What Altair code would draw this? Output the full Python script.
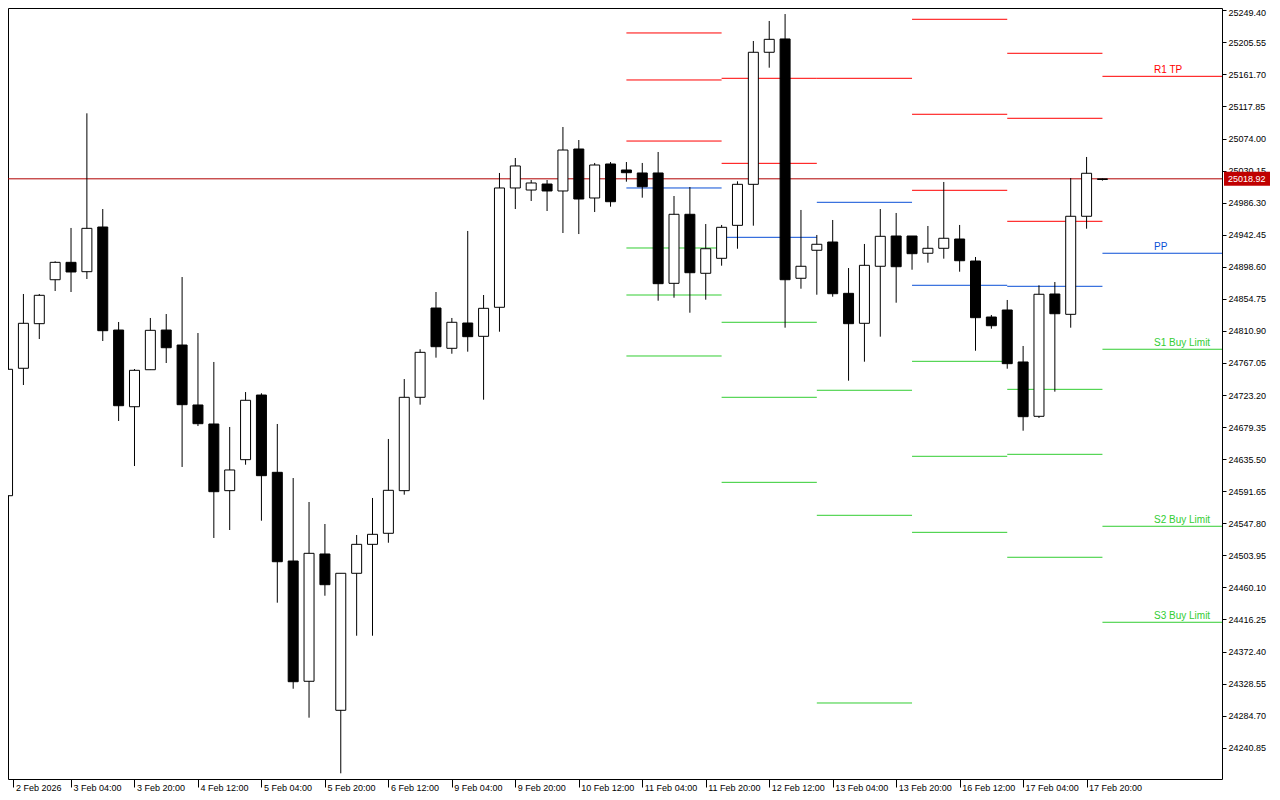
import altair as alt
import pandas as pd

# ---- candle data (4-hour bars, index 0 = 2 Feb 2026 12:00) ----
opens = [24585.5, 24759.8, 24820.8, 24880.9, 24904.7, 24891.9, 24953.0, 24812.1, 24707.2, 24757.8,
         24812.1, 24791.6, 24709.6, 24683.6, 24592.4, 24634.8, 24723.2, 24617.5, 24496.2, 24331.7,
         24505.8, 24292.0, 24479.4, 24519.0, 24534.1, 24592.4, 24720.1, 24842.2, 24787.1, 24821.7,
         24803.5, 24843.2, 25006.4, 25003.6, 25011.8, 25002.3, 25059.7, 24992.7, 25039.2, 25031.0,
         25026.9, 25026.9, 24876.0, 24970.4, 24889.7, 24910.2, 24955.3, 25011.4, 25192.0, 25210.2,
         24882.9, 24921.2, 24932.5, 24862.3, 24821.3, 24899.3, 24940.7, 24940.7, 24917.1, 24923.9,
         24936.6, 24906.5, 24829.9, 24839.5, 24768.4, 24694.1, 24861.4, 24833.6, 24967.7, 25018.0]
highs = [24758.4, 24861.4, 24861.4, 24906.1, 24951.7, 25108.5, 24977.6, 24823.1, 24758.8, 24828.6,
         24834.0, 24884.6, 24808.0, 24768.4, 24679.5, 24727.3, 24725.6, 24683.6, 24609.7, 24576.9,
         24546.8, 24479.4, 24531.8, 24582.4, 24663.1, 24745.1, 24785.8, 24864.1, 24828.6, 24947.6,
         24860.0, 25026.9, 25047.4, 25017.3, 25017.3, 25089.8, 25072.0, 25040.6, 25041.9, 25041.9,
         25040.6, 25055.6, 24995.4, 25007.7, 24957.1, 24955.8, 25015.5, 25207.4, 25234.8, 25244.3,
         24976.3, 24942.1, 24962.6, 24896.9, 24929.8, 24977.6, 24972.2, 24940.7, 24954.4, 25014.6,
         24955.8, 24912.0, 24832.7, 24853.2, 24790.3, 24873.3, 24877.8, 25020.0, 25048.8, 25019.5]
lows = [24585.5, 24736.9, 24799.8, 24865.5, 24864.1, 24881.9, 24797.1, 24687.7, 24626.1, 24757.4,
        24767.0, 24624.8, 24680.8, 24527.7, 24538.6, 24627.9, 24551.3, 24439.2, 24321.5, 24281.9,
        24448.7, 24205.8, 24394.0, 24394.0, 24521.2, 24586.9, 24710.0, 24774.3, 24779.7, 24782.5,
        24716.8, 24809.8, 24977.6, 24988.6, 24974.9, 24944.8, 24943.4, 24973.5, 24980.8, 25015.0,
        24993.1, 24852.2, 24856.3, 24835.8, 24853.6, 24900.1, 24923.3, 24954.8, 25170.9, 24815.3,
        24868.6, 24860.4, 24857.7, 24742.8, 24768.8, 24803.0, 24849.5, 24894.6, 24904.2, 24909.7,
        24891.9, 24783.8, 24813.9, 24759.2, 24674.4, 24691.8, 24727.8, 24815.3, 24950.7, 25016.5]
closes = [24758.4, 24821.3, 24859.6, 24904.7, 24891.5, 24951.2, 24811.2, 24708.6, 24757.0, 24811.7,
          24787.9, 24710.0, 24684.0, 24591.0, 24620.7, 24716.0, 24612.9, 24495.2, 24331.1, 24506.7,
          24463.8, 24479.4, 24519.0, 24532.7, 24592.9, 24720.1, 24781.6, 24789.3, 24822.7, 24803.0,
          24841.8, 25006.4, 25036.5, 25013.2, 25002.3, 25058.3, 24991.3, 25037.8, 24987.6, 25027.3,
          25008.1, 24875.5, 24970.4, 24890.5, 24923.3, 24952.6, 25011.4, 25192.0, 25209.7, 24880.9,
          24899.3, 24929.4, 24861.8, 24820.8, 24900.6, 24940.3, 24898.7, 24916.5, 24923.9, 24937.6,
          24906.9, 24829.0, 24818.0, 24766.1, 24693.6, 24861.0, 24834.4, 24967.7, 25026.5, 25018.92]
bar_index = list(range(len(opens)))

current_price = 25018.92

# ---- daily pivot segments (start / end bar index) ----
seg_start = [39, 45, 51, 57, 63, 69]
seg_end = [45, 51, 57, 63, 69, 80]
r3 = [25218.4, 25257.6, None, 25237.1, 25190.6, None]
r2 = [25154.1, 25156.4, None, 25107.2, 25101.7, None]
r1 = [25070.6, 25040.1, 25156.4, 25003.2, 24960.8, 25159.1]
pp = [25006.4, 24938.9, 24986.8, 24873.3, 24871.9, 24917.1]
s1 = [24924.3, 24822.7, 24729.7, 24769.3, 24731.0, 24785.8]
s2 = [24860.0, 24720.1, 24558.7, 24639.4, 24642.1, 24543.7]
s3 = [24776.6, 24603.8, 24302.0, 24535.4, 24501.3, 24412.4]

level_texts = ["R1 TP", "PP", "S1 Buy Limit", "S2 Buy Limit", "S3 Buy Limit"]
level_kinds = ["R", "P", "S", "S", "S"]

# ---- axis ticks ----
x_tick_pos = [0.375, 4, 8, 12, 16, 20, 24, 28, 32, 36, 40, 44, 48, 52, 56, 60, 64, 68]
x_labels = ["2 Feb 2026", "3 Feb 04:00", "3 Feb 20:00", "4 Feb 12:00", "5 Feb 04:00", "5 Feb 20:00",
            "6 Feb 12:00", "9 Feb 04:00", "9 Feb 20:00", "10 Feb 12:00", "11 Feb 04:00", "11 Feb 20:00",
            "12 Feb 12:00", "13 Feb 04:00", "13 Feb 20:00", "16 Feb 12:00", "17 Feb 04:00", "17 Feb 20:00"]
y_ticks = [25249.40, 25205.55, 25161.70, 25117.85, 25074.00, 25030.15, 24986.30, 24942.45,
           24898.60, 24854.75, 24810.90, 24767.05, 24723.20, 24679.35, 24635.50, 24591.65,
           24547.80, 24503.95, 24460.10, 24416.25, 24372.40, 24328.55, 24284.70, 24240.85]

# ---- build tables ----
candles = pd.DataFrame({"i": bar_index, "open": opens, "high": highs, "low": lows, "close": closes})

rows = []
for k in range(len(seg_start)):
    for kind, arr in (("R", r3), ("R", r2), ("R", r1), ("P", pp), ("S", s1), ("S", s2), ("S", s3)):
        if arr[k] is not None:
            rows.append({"start": seg_start[k], "end": seg_end[k], "level": arr[k], "kind": kind})
pivots = pd.DataFrame(rows)

last = len(seg_start) - 1
labels_df = pd.DataFrame({
    "text": level_texts,
    "level": [r1[last], pp[last], s1[last], s2[last], s3[last]],
    "kind": level_kinds,
})
price_df = pd.DataFrame({"price": [current_price], "txt": ["%.2f" % current_price]})

FONT = "Liberation Sans"
xscale = alt.Scale(domain=[0.34375, 76.21875], nice=False, zero=False)
yscale = alt.Scale(domain=[24198.04, 25252.55], nice=False, zero=False)
label_expr = "[" + ",".join("'" + s + "'" for s in x_labels) + "][round(datum.value/4)]"

xaxis = alt.Axis(values=x_tick_pos, labelExpr=label_expr, title=None, grid=False, domain=False,
                 tickColor="black", tickSize=8, labelAlign="left", labelBaseline="top",
                 labelPadding=-4, labelOffset=2, labelFont=FONT, labelFontSize=9,
                 labelColor="black", labelOverlap=False, labelFlush=False)
yaxis = alt.Axis(orient="right", values=y_ticks, format=".2f", title=None, grid=False,
                 domain=False, tickColor="black", tickSize=4, labelPadding=2, labelFont=FONT,
                 labelFontSize=9, labelColor="black", labelOverlap=False, labelFlush=False,
                 labelOffset={"condition": {"test": "datum.value > 25249", "value": 2}, "value": 0})

color_scale = alt.Scale(domain=["R", "P", "S"], range=["#FF0000", "#0A4FD6", "#32CD32"])

base = alt.Chart(candles)

pivot_lines = alt.Chart(pivots).mark_rule(strokeWidth=1, clip=True).encode(
    x=alt.X("start:Q", scale=xscale, axis=xaxis),
    x2="end:Q",
    y=alt.Y("level:Q", scale=yscale, axis=yaxis),
    color=alt.Color("kind:N", scale=color_scale, legend=None),
)

price_line = alt.Chart(price_df).mark_rule(color="#B00000", strokeWidth=1).encode(
    y=alt.Y("price:Q", scale=yscale, axis=yaxis),
)

wicks = base.mark_rule(color="black", strokeWidth=1, clip=True).encode(
    x=alt.X("i:Q", scale=xscale, axis=xaxis),
    y=alt.Y("low:Q", scale=yscale, axis=yaxis),
    y2="high:Q",
)

bodies = base.mark_bar(size=10, stroke="black", strokeWidth=1, clip=True).encode(
    x=alt.X("i:Q", scale=xscale, axis=xaxis),
    y=alt.Y("open:Q", scale=yscale, axis=yaxis),
    y2="close:Q",
    fill=alt.condition("datum.close < datum.open", alt.value("black"), alt.value("white")),
)

level_labels = alt.Chart(labels_df).mark_text(align="left", baseline="alphabetic", dy=-3,
                                              font=FONT, fontSize=10).encode(
    x=alt.value(1146),
    y=alt.Y("level:Q", scale=yscale, axis=yaxis),
    text="text:N",
    color=alt.Color("kind:N", scale=color_scale, legend=None),
)

price_box = alt.Chart(price_df).mark_point(shape="M-1,-0.304H1V0.304H-1Z", size=2116, filled=True,
                                           color="#C00000", opacity=1).encode(
    x=alt.value(1239),
    y=alt.Y("price:Q", scale=yscale, axis=yaxis),
)
price_text = alt.Chart(price_df).mark_text(align="left", baseline="middle", color="white",
                                           font=FONT, fontSize=9).encode(
    x=alt.value(1220),
    y=alt.Y("price:Q", scale=yscale, axis=yaxis),
    text="txt:N",
)

chart = alt.layer(pivot_lines, price_line, wicks, bodies, level_labels, price_box, price_text).properties(
    width=1214, height=771,
    autosize=alt.AutoSizeParams(type="none"),
    padding={"left": 0, "top": 0, "right": 50, "bottom": 22},
    background="white",
).configure_view(stroke="black", strokeWidth=1)

chart.save("out.html", embed_options={"renderer": "svg", "actions": False})
